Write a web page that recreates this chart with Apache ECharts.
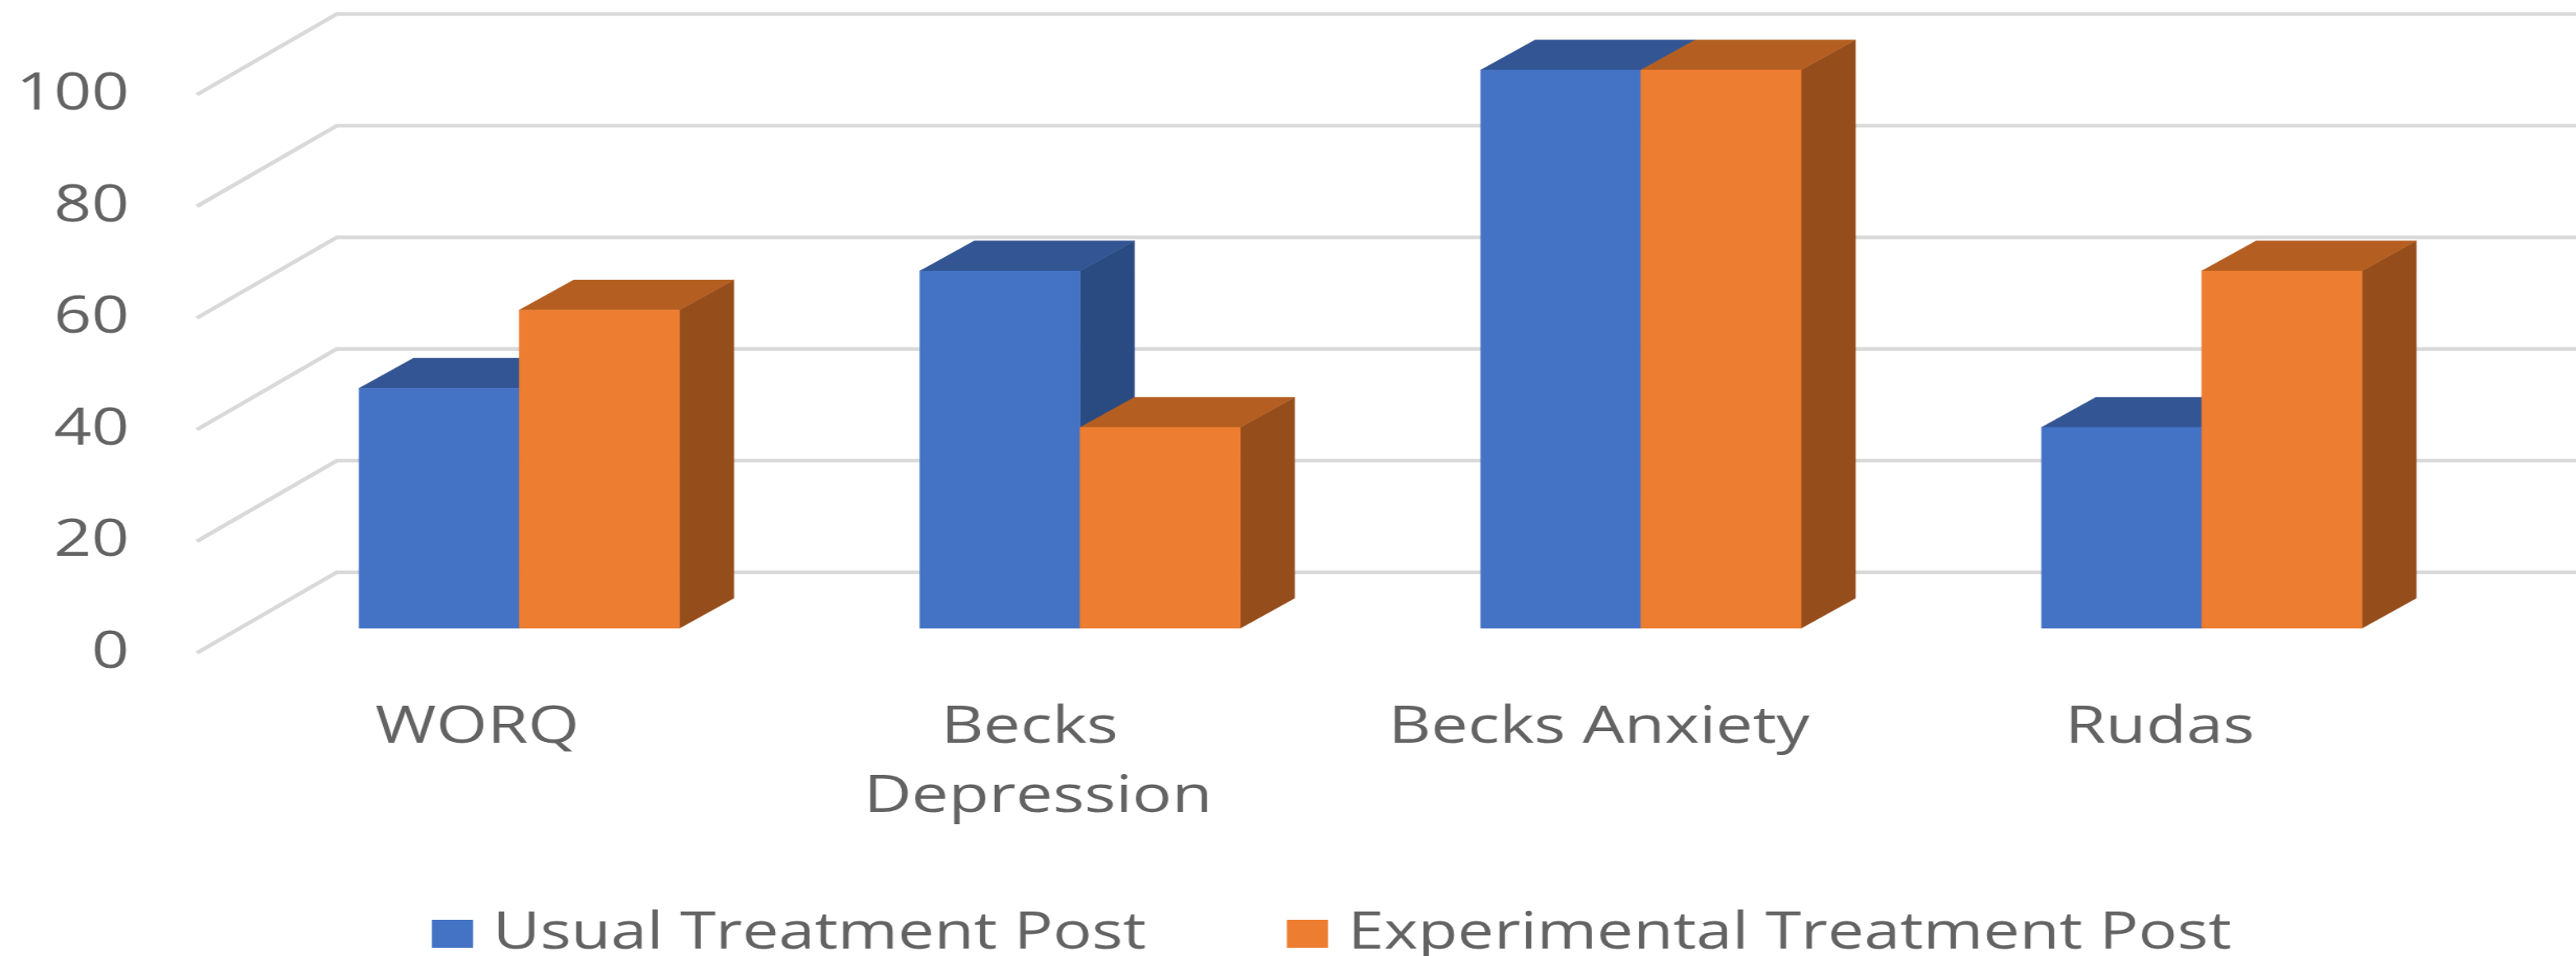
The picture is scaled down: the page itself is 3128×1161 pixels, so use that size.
<!DOCTYPE html>
<html>
<head>
<meta charset="utf-8">
<style>
html,body{margin:0;padding:0;background:#fff;overflow:hidden}
#chart{position:absolute;left:0;top:0;height:1161px;transform-origin:0 0}
</style>
<script src="https://cdn.jsdelivr.net/npm/echarts@6/dist/echarts.min.js"></script>
</head>
<body>
<div id="chart"></div>
<script>
const categories = ['WORQ', 'Becks Depression', 'Becks Anxiety', 'Rudas'];
const usualTreatment = [43, 64, 100, 36];
const experimentalTreatment = [57, 36, 100, 64];
const yTicks = [0, 20, 40, 60, 80, 100];

// The reference is a horizontally stretched picture: lay out in unstretched
// units and stretch the whole chart by SX.
const SX = 1.27;
const el = document.getElementById('chart');
el.style.width = (3128 / SX) + 'px';
el.style.transform = 'scaleX(' + SX + ')';
const X = v => v / SX;

const FONT = '"Open Sans"';
const TEXT = '#636363';

function gridItem(params, api) {
  const cs = params.coordSys;
  const p = api.coord([0, api.value(0)]);
  const wx = X(170), wy = -98;
  return {
    type: 'polyline',
    shape: { points: [[cs.x, p[1]], [cs.x + wx, p[1] + wy], [cs.x + cs.width + wx, p[1] + wy]] },
    style: { fill: null, stroke: '#D9D9D9', lineWidth: 4.4 },
    silent: true
  };
}

function barItem(side, front, top, dark) {
  return function (params, api) {
    const p = api.coord([api.value(0), api.value(1)]);
    const b = api.coord([api.value(0), 0]);
    const band = api.size([1, 0])[0];
    const w = band * 0.2856;
    const planeX = X(51), planeY = -30, dx = X(66), dy = -36.5;
    const x0 = p[0] + planeX + (side < 0 ? -w : 0);
    const x1 = x0 + w;
    const yt = p[1] + planeY, yb = b[1] + planeY;
    const poly = (pts, c) => ({
      type: 'polygon', shape: { points: pts },
      style: { fill: c, stroke: c, lineWidth: 0.5 }
    });
    return {
      type: 'group',
      children: [
        poly([[x1, yt], [x1 + dx, yt + dy], [x1 + dx, yb + dy], [x1, yb]], dark),
        poly([[x0, yt], [x0 + dx, yt + dy], [x1 + dx, yt + dy], [x1, yt]], top),
        poly([[x0, yt], [x1, yt], [x1, yb], [x0, yb]], front)
      ]
    };
  };
}

const chart = echarts.init(el, null, { renderer: 'canvas' });
chart.setOption({
  backgroundColor: '#fff',
  animation: false,
  textStyle: { fontFamily: FONT },
  grid: { left: X(239), width: X(2724), top: 115, height: 678, containLabel: false },
  legend: {
    data: ['Usual Treatment Post', 'Experimental Treatment Post'],
    left: X(518), top: 1098, icon: 'rect',
    itemWidth: X(50), itemHeight: 34, itemGap: X(171),
    textStyle: { fontFamily: FONT, fontSize: 62, color: TEXT, padding: [0, 0, 0, 14] }
  },
  xAxis: {
    type: 'category', data: categories,
    axisLine: { show: false }, axisTick: { show: false }, splitLine: { show: false },
    axisLabel: {
      interval: 0, margin: 49, color: TEXT, fontFamily: FONT, fontSize: 63,
      lineHeight: 84, width: 450, overflow: 'break', hideOverlap: false
    }
  },
  yAxis: {
    type: 'value', min: 0, max: 100, interval: 20,
    axisLine: { show: false }, axisTick: { show: false }, splitLine: { show: false },
    axisLabel: { margin: X(82), color: TEXT, fontFamily: FONT, fontSize: 63 }
  },
  series: [
    {
      type: 'custom', name: 'gridlines', silent: true, clip: false, z: 1,
      data: yTicks.map(v => [v]), encode: { y: 0 },
      renderItem: gridItem
    },
    {
      type: 'custom', name: 'Usual Treatment Post', clip: false, z: 2,
      itemStyle: { color: '#4472C4' },
      data: usualTreatment.map((v, i) => [i, v]), encode: { x: 0, y: 1 },
      renderItem: barItem(-1, '#4472C4', '#335593', '#2A4A82')
    },
    {
      type: 'custom', name: 'Experimental Treatment Post', clip: false, z: 3,
      itemStyle: { color: '#ED7D31' },
      data: experimentalTreatment.map((v, i) => [i, v]), encode: { x: 0, y: 1 },
      renderItem: barItem(1, '#ED7D31', '#B45F21', '#964D1C')
    }
  ]
});
</script>
</body>
</html>
